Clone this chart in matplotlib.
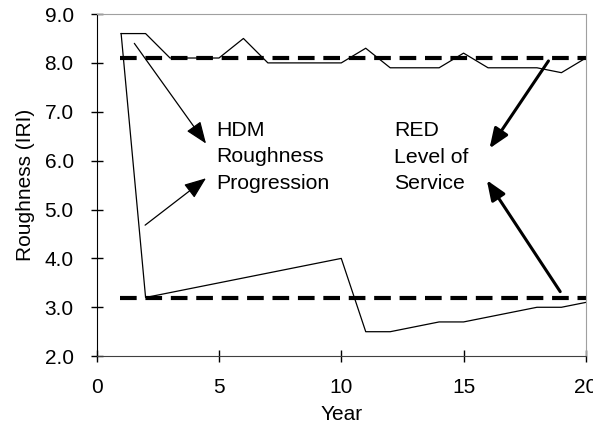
import matplotlib

matplotlib.use("Agg")
import matplotlib.pyplot as plt
from matplotlib.ticker import FormatStrFormatter

plt.rcParams.update({"font.family": ["Liberation Sans", "DejaVu Sans"], "font.size": 15})

# ---------------------------------------------------------------- data
years = list(range(1, 21))
hdm_upper = [8.6, 8.6, 8.1, 8.1, 8.1, 8.5, 8.0, 8.0, 8.0, 8.0,
             8.3, 7.9, 7.9, 7.9, 8.2, 7.9, 7.9, 7.9, 7.8, 8.1]
hdm_lower = [8.6, 3.2, 3.3, 3.4, 3.5, 3.6, 3.7, 3.8, 3.9, 4.0,
             2.5, 2.5, 2.6, 2.7, 2.7, 2.8, 2.9, 3.0, 3.0, 3.1]
los_span = [0.95, 20]
los_levels = [8.1, 3.18]

hdm_label = "HDM\nRoughness\nProgression"
red_label = "RED\nLevel of\nService"

# ---------------------------------------------------------------- figure
fig = plt.figure(figsize=(5.93, 4.25), dpi=100)
ax = fig.add_axes([0.163, 0.162, 0.825, 0.805])

ax.plot(years, hdm_upper, color="black", lw=0.9)
ax.plot(years, hdm_lower, color="black", lw=0.9)
for lv in los_levels:
    ax.plot(los_span, [lv, lv], color="black", lw=3, dashes=(4, 2.1))

# thin arrows -> HDM label
thin = dict(arrowstyle="-|>,head_length=0.9,head_width=0.35", color="black", lw=0.9,
            shrinkA=0, shrinkB=0)
ax.annotate("", xy=(4.47, 6.35), xytext=(1.54, 8.40), arrowprops=thin)
ax.annotate("", xy=(4.47, 5.64), xytext=(1.98, 4.68), arrowprops=thin)

# thick arrows -> RED label
thick = dict(arrowstyle="-|>,head_length=0.8,head_width=0.32", color="black", lw=2.2,
             shrinkA=0, shrinkB=0)
ax.annotate("", xy=(16.06, 6.25), xytext=(18.47, 8.04), arrowprops=thick)
ax.annotate("", xy=(15.95, 5.60), xytext=(18.95, 3.32), arrowprops=thick)

ax.text(4.88, 6.08, hdm_label, ha="left", va="center", fontsize=15.3, linespacing=1.5)
ax.text(12.17, 6.07, red_label, ha="left", va="center", fontsize=15.3, linespacing=1.5)

ax.set_xlim(0, 20)
ax.set_ylim(2.0, 9.0)
ax.set_xticks([0, 5, 10, 15, 20])
ax.set_yticks([2, 3, 4, 5, 6, 7, 8, 9])
ax.yaxis.set_major_formatter(FormatStrFormatter("%.1f"))
ax.tick_params(direction="inout", length=9, width=1, labelsize=15)
ax.tick_params(axis="x", pad=11)
ax.tick_params(axis="y", pad=12)
ax.set_xlabel("Year", fontsize=15, labelpad=6)
ax.set_ylabel("Roughness (IRI)", fontsize=15, labelpad=7)

ax.spines["left"].set_color("black")
ax.spines["bottom"].set_color("#404040")
for s in ("top", "right"):
    ax.spines[s].set_color("#a0a0a0")

fig.savefig("out.png", dpi=100)
